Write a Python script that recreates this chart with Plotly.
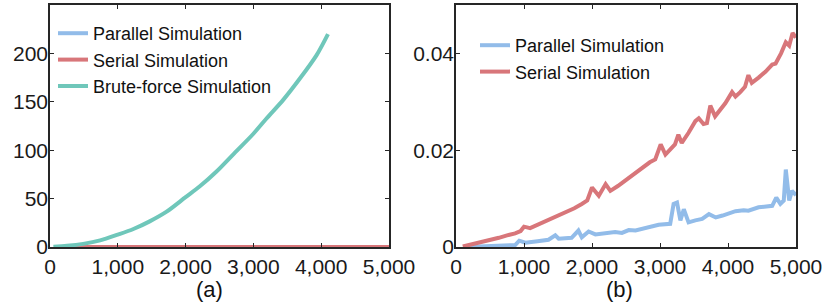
import plotly.graph_objects as go

# ---------------- data ----------------
# Panel (a): brute-force simulation time
brute_x = [50, 250, 490, 740, 1000, 1230, 1470, 1720, 2000, 2210, 2456, 2700,
           3000, 3190, 3440, 3680, 3930, 4100]
brute_y = [0.3, 1.2, 3.2, 6.8, 12.8, 18.6, 26.5, 36.5, 51.5, 62.7, 78.0, 95.5,
           117.0, 132.5, 152.0, 173.5, 198.0, 220.0]

# Serial simulation time
serial_x = [100, 200, 380, 500, 630, 750, 870, 950, 1000, 1090, 1200, 1360, 1480,
            1610, 1740, 1850, 1930, 2000, 2100, 2200, 2270, 2380, 2490, 2610,
            2735, 2850, 2930, 3010, 3080, 3150, 3220, 3270, 3320, 3420, 3520,
            3570, 3640, 3690, 3740, 3810, 3890, 3960, 4060, 4110, 4180, 4250,
            4300, 4350, 4450, 4550, 4650, 4700, 4780, 4850, 4900, 4950, 5000]
serial_y = [0.0001, 0.0004, 0.0010, 0.0013, 0.0019, 0.0024, 0.0028, 0.0033,
            0.0042, 0.0039, 0.0046, 0.0055, 0.0063, 0.0072, 0.0080, 0.0089,
            0.0096, 0.0123, 0.0106, 0.0130, 0.0116, 0.0126, 0.0137, 0.0150,
            0.0164, 0.0175, 0.0181, 0.0212, 0.0191, 0.0202, 0.0212, 0.0232,
            0.0215, 0.0236, 0.0260, 0.0266, 0.0254, 0.0256, 0.0292, 0.0270,
            0.0284, 0.0297, 0.0320, 0.0311, 0.0320, 0.0331, 0.0355, 0.0339,
            0.0350, 0.0362, 0.0377, 0.0379, 0.0400, 0.0423, 0.0416, 0.0442,
            0.0433]

# Parallel simulation time
parallel_x = [150, 300, 500, 700, 870, 930, 1020, 1200, 1360, 1460, 1510, 1700,
              1800, 1850, 1950, 2050, 2200, 2340, 2440, 2540, 2640, 2740, 2840,
              2980, 3150, 3200, 3250, 3300, 3350, 3420, 3520, 3620, 3720, 3820,
              3920, 4010, 4110, 4230, 4300, 4450, 4550, 4650, 4710, 4770, 4820,
              4850, 4900, 4940, 5000]
parallel_y = [0.0000, 0.0001, 0.0002, 0.0003, 0.0004, 0.0013, 0.0009, 0.0012,
              0.0015, 0.0024, 0.0017, 0.0019, 0.0034, 0.0020, 0.0032, 0.0026,
              0.0029, 0.0031, 0.0029, 0.0035, 0.0034, 0.0037, 0.0041, 0.0046,
              0.0048, 0.0089, 0.0092, 0.0055, 0.0078, 0.0051, 0.0055, 0.0058,
              0.0068, 0.0061, 0.0065, 0.0069, 0.0074, 0.0076, 0.0075, 0.0082,
              0.0084, 0.0085, 0.0102, 0.0089, 0.0096, 0.0160, 0.0096, 0.0116,
              0.0107]

x_ticks = [0, 1000, 2000, 3000, 4000, 5000]
x_tick_text = ["0", "1,000", "2,000", "3,000", "4,000", "5,000"]
ya_ticks = [0, 50, 100, 150, 200]
yb_ticks = [0, 0.02, 0.04]
yb_tick_text = ["0", "0.02", "0.04"]

names = ["Parallel Simulation", "Serial Simulation", "Brute-force Simulation"]
panel_labels = ["(a)", "(b)"]

# ---------------- style ----------------
BLUE = "#92BCE9"
RED = "#D8767A"
TEAL = "#6FC7BA"
AXC = "#262626"
FONT = "Liberation Sans, Arial, sans-serif"
W, H = 830, 302
LW = 4

def px_x(p):
    """window pixel x -> paper fraction"""
    return p / W

def px_y(p):
    """window pixel y (from top) -> paper fraction"""
    return (H - p) / H

fig = go.Figure()

# Panel (a)
fig.add_trace(go.Scatter(x=parallel_x, y=parallel_y, mode="lines", name=names[0],
                         line=dict(color=BLUE, width=LW), xaxis="x", yaxis="y",
                         legend="legend"))
fig.add_trace(go.Scatter(x=serial_x, y=serial_y, mode="lines", name=names[1],
                         line=dict(color=RED, width=LW), xaxis="x", yaxis="y",
                         legend="legend"))
fig.add_trace(go.Scatter(x=brute_x, y=brute_y, mode="lines", name=names[2],
                         line=dict(color=TEAL, width=LW, shape="spline",
                                   smoothing=0.8),
                         xaxis="x", yaxis="y", legend="legend"))

# Panel (b)
fig.add_trace(go.Scatter(x=parallel_x, y=parallel_y, mode="lines", name=names[0],
                         line=dict(color=BLUE, width=LW), xaxis="x2", yaxis="y2",
                         legend="legend2"))
fig.add_trace(go.Scatter(x=serial_x, y=serial_y, mode="lines", name=names[1],
                         line=dict(color=RED, width=LW), xaxis="x2", yaxis="y2",
                         legend="legend2"))

axis_common = dict(showline=True, linecolor=AXC, linewidth=1.6, mirror="ticks",
                   ticks="inside", ticklen=4, tickwidth=1.3, tickcolor=AXC,
                   showgrid=False, zeroline=False, automargin=False,
                   tickfont=dict(family=FONT, size=21, color="#1a1a1a"))

ydom = [px_y(247), px_y(5)]

fig.update_layout(
    width=W, height=H, autosize=False,
    margin=dict(l=0, r=0, t=0, b=0),
    paper_bgcolor="white", plot_bgcolor="white",
    font=dict(family=FONT, color="#1a1a1a"),
    xaxis=dict(domain=[px_x(50), px_x(389)], range=[0, 5000], tickvals=x_ticks,
               ticktext=x_tick_text, anchor="y", **axis_common),
    yaxis=dict(domain=ydom, range=[0, 250], tickvals=ya_ticks, anchor="x",
               ticklabelstandoff=-4, **axis_common),
    xaxis2=dict(domain=[px_x(456), px_x(796)], range=[0, 5000], tickvals=x_ticks,
                ticktext=x_tick_text, anchor="y2", **axis_common),
    yaxis2=dict(domain=ydom, range=[0, 0.05], tickvals=yb_ticks,
                ticktext=yb_tick_text, anchor="x2", ticklabelstandoff=-4,
                **axis_common),
    legend=dict(x=px_x(53), y=px_y(15), xanchor="left", yanchor="top",
                bgcolor="rgba(0,0,0,0)", borderwidth=0,
                font=dict(family=FONT, size=18, color="#111")),
    legend2=dict(x=px_x(475), y=px_y(27), xanchor="left", yanchor="top",
                 bgcolor="rgba(0,0,0,0)", borderwidth=0,
                 font=dict(family=FONT, size=18, color="#111")),
    showlegend=True,
    annotations=[
        dict(text=panel_labels[0], x=px_x(209), y=px_y(289), xref="paper",
             yref="paper", showarrow=False, xanchor="center", yanchor="middle",
             font=dict(family=FONT, size=22, color="#111")),
        dict(text=panel_labels[1], x=px_x(619), y=px_y(289), xref="paper",
             yref="paper", showarrow=False, xanchor="center", yanchor="middle",
             font=dict(family=FONT, size=22, color="#111")),
    ],
)

# remove the browser's default 8px page margin so the figure fills the window
fig.write_html("out.html",
               config={"displayModeBar": False},
               post_script="document.body.style.margin='0';"
                           "document.body.style.overflow='hidden';")
